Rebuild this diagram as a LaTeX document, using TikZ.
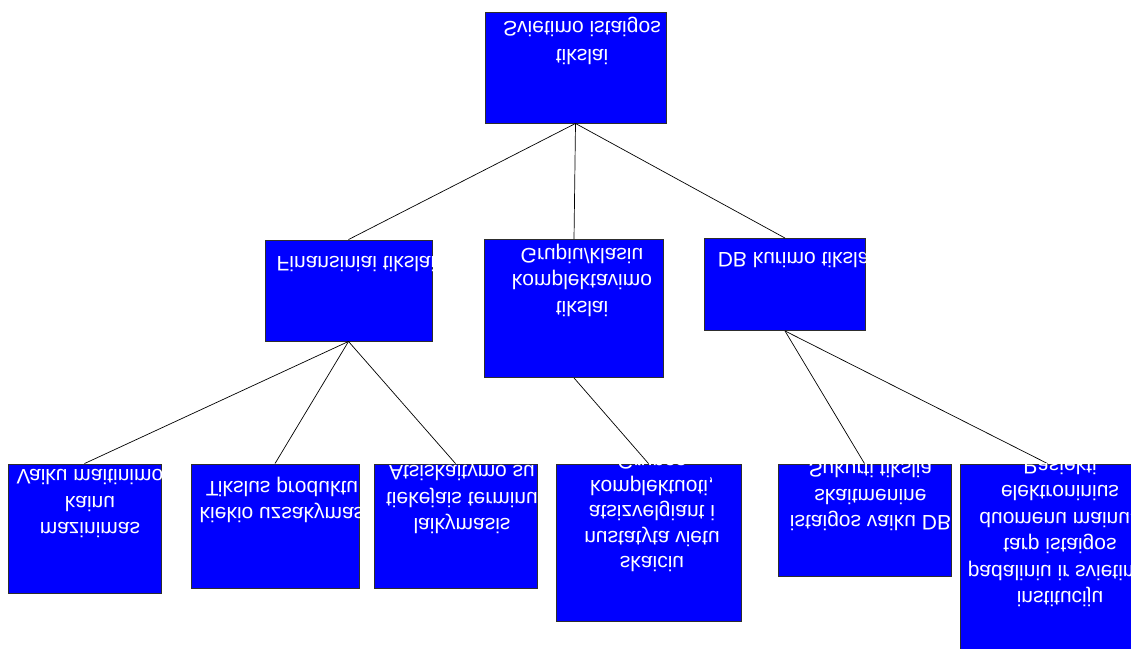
\documentclass[tikz,border=0pt]{standalone}
\usepackage{fontspec}
\setmainfont{Liberation Sans}
\usepackage{graphicx}
\newcommand{\fl}[1]{\rotatebox[origin=c]{180}{\reflectbox{\strut #1}}}
\begin{document}
\begin{tikzpicture}[x=1pt,y=-1pt,
  box/.style={draw={rgb,255:red,45;green,45;blue,45}, line width=0.9pt,
    fill={rgb,255:red,0;green,0;blue,255}, inner sep=0pt, rectangle},
  txt/.style={text=white, align=center, inner sep=0pt,
    font=\fontsize{21}{26.5}\selectfont},
  link/.style={draw=black, line width=0.7pt}]
\useasboundingbox (0,0) rectangle (1131,648);
% boxes
\node[box, minimum width=181pt, minimum height=111pt] (b1) at (575.5,67.5) {};
\node[box, minimum width=167pt, minimum height=101pt] (b2) at (348.5,290.5) {};
\node[box, minimum width=179pt, minimum height=138pt] (b3) at (574,308.5) {};
\node[box, minimum width=161pt, minimum height=92pt] (b4) at (785,284.5) {};
\node[box, minimum width=153pt, minimum height=129pt] (b5) at (84.5,528.5) {};
\node[box, minimum width=168pt, minimum height=124pt] (b6) at (275,526) {};
\node[box, minimum width=163pt, minimum height=124pt] (b7) at (455.5,526) {};
\node[box, minimum width=185pt, minimum height=157pt] (b8) at (648.5,542.5) {};
\node[box, minimum width=173pt, minimum height=112pt] (b9) at (864.5,520) {};
\node[box, minimum width=175pt, minimum height=190pt] (b10) at (1047.5,559) {};
% connectors
\draw[link] (b1.south) -- (b2.north);
\draw[link] (b1.south) -- (b3.north);
\draw[link] (b1.south) -- (b4.north);
\draw[link] (b2.south) -- (b5.north);
\draw[link] (b2.south) -- (b6.north);
\draw[link] (b2.south) -- (b7.north);
\draw[link] (b3.south) -- (b8.north);
\draw[link] (b4.south) -- (b9.north);
\draw[link] (b4.south) -- (b10.north);
% texts
\begin{scope}
\clip (b1.south west) rectangle (b1.north east);
\node[txt] (t1) at (582,41) {\fl{Svietimo istaigos}\\[1.5pt]\fl{tikslai}};
\end{scope}
\begin{scope}
\clip (b2.south west) rectangle (b2.north east);
\node[txt] (t2) at (356,262) {\fl{Finansiniai tikslai}};
\end{scope}
\begin{scope}
\clip (b3.south west) rectangle (b3.north east);
\node[txt] (t3) at (582,280) {\fl{Grupiu/klasiu}\\\fl{komplektavimo}\\\fl{tikslai}};
\end{scope}
\begin{scope}
\clip (b4.south west) rectangle (b4.north east);
\node[txt] (t4) at (796,258) {\fl{DB kurimo tikslai}};
\end{scope}
\begin{scope}
\clip (b5.south west) rectangle (b5.north east);
\node[txt] (t5) at (90,501.5) {\fl{Vaiku maitinimo}\\\fl{kainu}\\\fl{mazinimas}};
\end{scope}
\begin{scope}
\clip (b6.south west) rectangle (b6.north east);
\node[txt] (t6) at (282,500) {\fl{Tikslus produktu}\\\fl{kiekio uzsakymas}};
\end{scope}
\begin{scope}
\clip (b7.south west) rectangle (b7.north east);
\node[txt] (t7) at (462,497.5) {\fl{Atsiskaitymo su}\\\fl{tiekejais terminu}\\\fl{laikymasis}};
\end{scope}
\begin{scope}
\clip (b8.south west) rectangle (b8.north east);
\node[txt] (t8) at (652,511) {\fl{Grupes}\\[-1pt]\fl{komplektuoti,}\\[-1pt]\fl{atsizvelgiant i}\\[-1pt]\fl{nustatyta vietu}\\[-1pt]\fl{skaiciu}};
\end{scope}
\begin{scope}
\clip (b9.south west) rectangle (b9.north east);
\node[txt] (t9) at (870.5,494.5) {\fl{Sukurti tikslia}\\\fl{skaitmenine}\\\fl{istaigos vaiku DB}};
\end{scope}
\begin{scope}
\clip (b10.south west) rectangle (b10.north east);
\node[txt] (t10) at (1060,531) {\fl{Pasiekti}\\\fl{elektroninius}\\\fl{duomenu mainus}\\\fl{tarp istaigos}\\\fl{padaliniu ir svietimo}\\\fl{instituciju}};
\end{scope}
\end{tikzpicture}
\end{document}
